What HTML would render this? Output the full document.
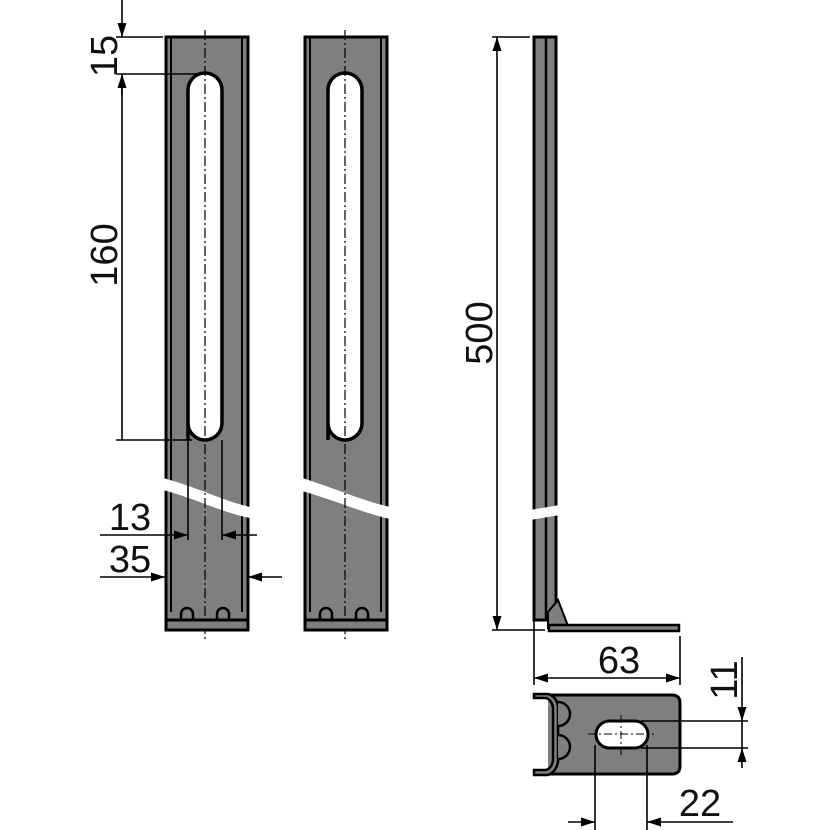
<!DOCTYPE html>
<html><head><style>body{margin:0;background:#fff}svg{display:block}text{font-family:"Liberation Sans",sans-serif;fill:#111}</style></head><body>
<svg width="830" height="830" viewBox="0 0 830 830" xmlns="http://www.w3.org/2000/svg">
<defs>
<marker id="a" viewBox="0 0 14 9" refX="14" refY="4.5" markerWidth="14" markerHeight="9" orient="auto-start-reverse" markerUnits="userSpaceOnUse"><path d="M0,0 L14,4.5 L0,9z" fill="#000"/></marker>
</defs>
<g stroke="#000" fill="none">
<!-- bar 1 -->
<g>
<rect x="166" y="37" width="82" height="593" fill="#7f7f7f" stroke-width="3"/>
<line x1="171" y1="37" x2="171" y2="612" stroke-width="2"/>
<line x1="242" y1="37" x2="242" y2="612" stroke-width="2"/>
<path d="M188,440 V90 A17,17 0 0 1 222,90 V423 A17,17 0 0 1 188,423z" fill="#fff" stroke-width="3.5"/>
<path d="M163,478 C200,488 220,500 250,507 L250,518 C220,512 200,500 163,490z" fill="#fff" stroke="none"/>
<line x1="205" y1="30" x2="205" y2="640" stroke-width="1.2" stroke-dasharray="10,3,2,3"/>
<path d="M181,628 V614 A6,6 0 0 1 193,614 V628 M217,628 V614 A6,6 0 0 1 229,614 V628" fill="#7f7f7f" stroke-width="2.5"/>
<rect x="166" y="620" width="82" height="10" fill="#7f7f7f" stroke-width="3"/>
</g>
<!-- bar 2 -->
<g>
<rect x="305" y="37" width="82" height="593" fill="#7f7f7f" stroke-width="3"/>
<line x1="310" y1="37" x2="310" y2="612" stroke-width="2"/>
<line x1="381" y1="37" x2="381" y2="612" stroke-width="2"/>
<path d="M328,440 V90 A17,17 0 0 1 362,90 V423 A17,17 0 0 1 328,423z" fill="#fff" stroke-width="3.5"/>
<path d="M302,478 C340,490 360,500 390,507 L390,519 C360,512 340,502 302,491z" fill="#fff" stroke="none"/>
<line x1="345" y1="30" x2="345" y2="640" stroke-width="1.2" stroke-dasharray="10,3,2,3"/>
<path d="M320,628 V614 A6,6 0 0 1 332,614 V628 M356,628 V614 A6,6 0 0 1 368,614 V628" fill="#7f7f7f" stroke-width="2.5"/>
<rect x="305" y="620" width="82" height="10" fill="#7f7f7f" stroke-width="3"/>
</g>
<!-- side view -->
<rect x="534" y="37" width="22" height="583" fill="#7f7f7f" stroke-width="3"/>
<line x1="546" y1="37" x2="546" y2="620" stroke-width="2.5"/>
<path d="M530,510 L560,505 L560,515 L530,520z" fill="#fff" stroke="none"/>
<path d="M548,628 L548,612 L558,600 L568,626z" fill="#7f7f7f" stroke-width="2"/>
<rect x="549" y="625" width="130" height="6" fill="#7f7f7f" stroke-width="2.5"/>
<!-- foot plan -->
<path d="M548,695 H672 Q680,695 680,703 V766 Q680,774 672,774 H548" fill="#7f7f7f" stroke-width="3"/>
<path d="M534,694 H548 Q556,696 558,706 V762 Q556,772 548,775 H534 V770 H546 Q552,768 553,760 V708 Q552,700 546,698 H534z" fill="#7f7f7f" stroke-width="2.5"/>
<path d="M558,702 A12,12 0 0 1 558,726 M558,735 A12,12 0 0 1 558,759" fill="#7f7f7f" stroke-width="2.5"/>
<rect x="596" y="721" width="52" height="27" rx="13.5" fill="#fff" stroke-width="3"/>
<line x1="588" y1="734" x2="654" y2="734" stroke-width="1" stroke-dasharray="8,3,2,3"/>
<line x1="621" y1="715" x2="621" y2="756" stroke-width="1" stroke-dasharray="8,3,2,3"/>
<!-- dimensions -->
<g stroke-width="1.6">
<line x1="122" y1="0" x2="122" y2="37" marker-end="url(#a)"/>
<line x1="122" y1="95" x2="122" y2="74" marker-end="url(#a)"/>
<line x1="122" y1="74" x2="122" y2="440"/>
<line x1="116" y1="37" x2="163" y2="37"/>
<line x1="116" y1="74" x2="205" y2="74"/>
<line x1="116" y1="440" x2="192" y2="440"/>
<line x1="188" y1="440" x2="188" y2="540"/>
<line x1="222" y1="440" x2="222" y2="540"/>
<line x1="100" y1="535" x2="188" y2="535" marker-end="url(#a)"/>
<line x1="257" y1="535" x2="222" y2="535" marker-end="url(#a)"/>
<line x1="100" y1="577" x2="165" y2="577" marker-end="url(#a)"/>
<line x1="282" y1="577" x2="248" y2="577" marker-end="url(#a)"/>
<line x1="497" y1="630" x2="497" y2="37" marker-end="url(#a)" marker-start="url(#a)"/>
<line x1="492" y1="37" x2="530" y2="37"/>
<line x1="492" y1="630" x2="545" y2="630"/>
<line x1="534" y1="612" x2="534" y2="685"/>
<line x1="680" y1="636" x2="680" y2="685"/>
<line x1="534" y1="678" x2="680" y2="678" marker-end="url(#a)" marker-start="url(#a)"/>
<line x1="742" y1="657" x2="742" y2="721" marker-end="url(#a)"/>
<line x1="742" y1="768" x2="742" y2="748" marker-end="url(#a)"/>
<line x1="742" y1="721" x2="742" y2="748"/>
<line x1="641" y1="721" x2="748" y2="721"/>
<line x1="641" y1="748" x2="748" y2="748"/>
<line x1="595" y1="745" x2="595" y2="830"/>
<line x1="647" y1="745" x2="647" y2="830"/>
<line x1="568" y1="822" x2="595" y2="822" marker-end="url(#a)"/>
<line x1="733" y1="822" x2="647" y2="822" marker-end="url(#a)"/>
</g>
</g>
<g font-size="38">
<text transform="translate(117,56) rotate(-90)" text-anchor="middle">15</text>
<text transform="translate(117,255) rotate(-90)" text-anchor="middle">160</text>
<text x="130" y="530" text-anchor="middle">13</text>
<text x="130" y="572" text-anchor="middle">35</text>
<text transform="translate(492,333) rotate(-90)" text-anchor="middle">500</text>
<text x="619" y="673" text-anchor="middle">63</text>
<text transform="translate(737,680) rotate(-90)" text-anchor="middle">11</text>
<text x="700" y="816" text-anchor="middle">22</text>
</g>
</svg>
</body></html>
